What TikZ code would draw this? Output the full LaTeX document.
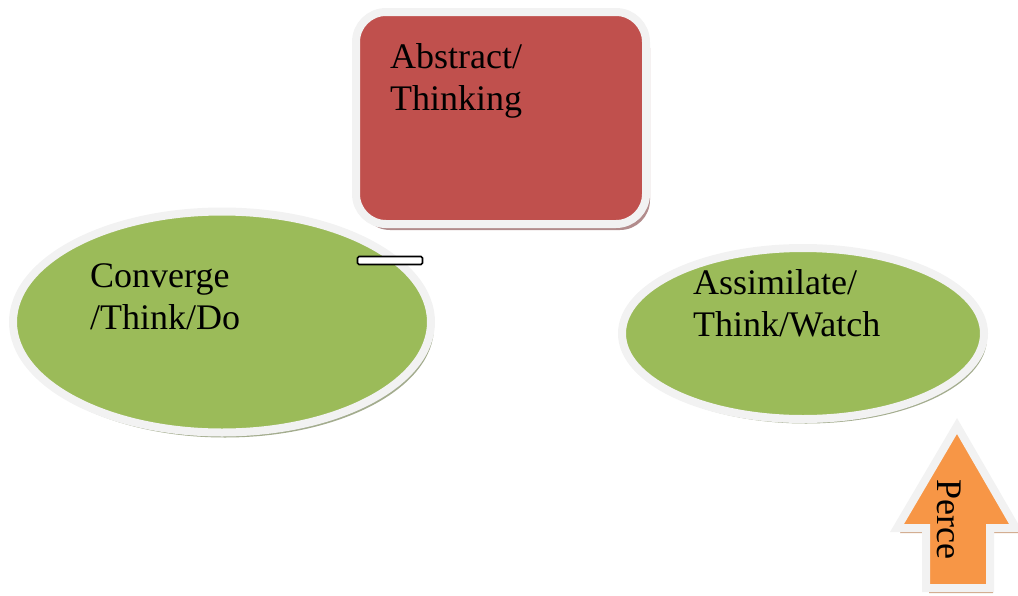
\documentclass[tikz,border=0pt]{standalone}
\usepackage{fontspec}
\setmainfont{Liberation Serif}
\usetikzlibrary{shapes.geometric}
\definecolor{redfill}{HTML}{C0504D}
\definecolor{greenfill}{HTML}{9BBB59}
\definecolor{orangefill}{HTML}{F79646}
\definecolor{rim}{HTML}{F2F2F2}
\definecolor{redshadow}{HTML}{B28C8C}
\definecolor{greenshadow}{HTML}{A3AC8E}
\definecolor{orangeshadow}{HTML}{CFA585}
\tikzset{
  rimmed/.style={draw=rim, line width=8pt},
  label36/.style={font=\fontsize{36}{42}\selectfont, inner sep=0pt, anchor=base west, align=left},
  ell/.style={ellipse, inner sep=0pt},
}
\begin{document}
\begin{tikzpicture}[x=1pt,y=-1pt]
\useasboundingbox (0,0) rectangle (1018,595);
\clip (0,0) rectangle (1018,595);
% red rounded box
\node[rectangle, rounded corners=30pt, minimum width=290pt, minimum height=212pt, fill=redshadow] (absShadow) at (505,124) {};
\node[rectangle, rounded corners=30pt, minimum width=290pt, minimum height=212pt, fill=redfill, rimmed] (abs) at (501,118) {};
\node[label36] (absText) at (390,110) {Abstract/\\Thinking};
% left ellipse
\node[ell, minimum width=418pt, minimum height=221pt, fill=greenshadow] (convShadow) at (225,327) {};
\node[ell, minimum width=418pt, minimum height=221pt, fill=greenfill, rimmed] (conv) at (222,322) {};
\node[label36] (convText) at (90,329) {Converge\\/Think/Do};
% right ellipse
\node[ell, minimum width=362pt, minimum height=171pt, fill=greenshadow] (assShadow) at (806,338) {};
\node[ell, minimum width=362pt, minimum height=171pt, fill=greenfill, rimmed] (ass) at (803,333.5) {};
\node[label36] (assText) at (693,336) {Assimilate/\\Think/Watch};
% small white bar
\node[rectangle, rounded corners=1.5pt, draw=black, line width=1.6pt, fill=white, minimum width=65pt, minimum height=8pt, inner sep=0pt] (bar) at (390,260.5) {};
% orange arrow
\fill[orangeshadow, shift={(3,5)}] (957,426) -- (1016,528) -- (990,528) -- (990,588) -- (926,588) -- (926,528) -- (897,528) -- cycle;
\filldraw[fill=orangefill, rimmed, line join=miter, miter limit=3] (957,426) -- (1016,528) -- (990,528) -- (990,588) -- (926,588) -- (926,528) -- (897,528) -- cycle;
\node[font=\fontsize{36}{42}\selectfont, inner sep=0pt, rotate=-90, anchor=base west] (perce) at (937,479) {Perce};
\end{tikzpicture}
\end{document}
